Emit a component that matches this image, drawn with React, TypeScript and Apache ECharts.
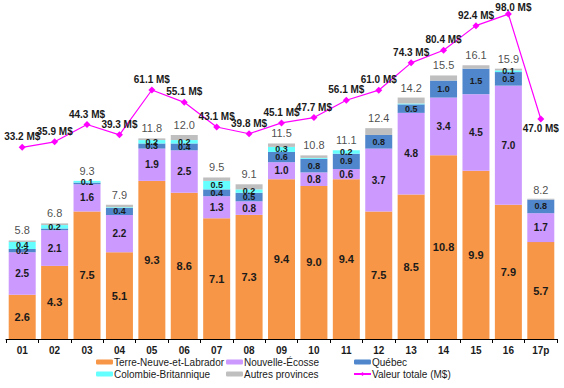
import React, { useEffect, useRef } from "react";
import * as echarts from "echarts";

const years = ["01", "02", "03", "04", "05", "06", "07", "08", "09", "10", "11", "12", "13", "14", "15", "16", "17p"];
const terreNeuve = [2.6, 4.3, 7.5, 5.1, 9.3, 8.6, 7.1, 7.3, 9.4, 9.0, 9.4, 7.5, 8.5, 10.8, 9.9, 7.9, 5.7];
const nouvelleEcosse = [2.5, 2.1, 1.6, 2.2, 1.9, 2.5, 1.3, 0.8, 1.0, 0.8, 0.6, 3.7, 4.8, 3.4, 4.5, 7.0, 1.7];
const quebec = [0.2, 0.1, 0.1, 0.4, 0.3, 0.4, 0.4, 0.5, 0.6, 0.8, 0.9, 0.8, 0.5, 1.0, 1.5, 0.8, 0.8];
const colombieBritannique = [0.4, 0.2, 0.1, 0.05, 0.2, 0.2, 0.5, 0.2, 0.3, 0.05, 0.2, 0, 0.05, 0, 0, 0.1, 0];
const autres = [0.1, 0.1, 0, 0.15, 0.1, 0.3, 0.2, 0.3, 0.2, 0.15, 0, 0.4, 0.35, 0.3, 0.2, 0.1, 0.05];
const totals = [5.8, 6.8, 9.3, 7.9, 11.8, 12.0, 9.5, 9.1, 11.5, 10.8, 11.1, 12.4, 14.2, 15.5, 16.1, 15.9, 8.2];
const valeurTotale = [33.2, 35.9, 44.3, 39.3, 61.1, 55.1, 43.1, 39.8, 45.1, 47.7, 56.1, 61.0, 74.3, 80.4, 92.4, 98.0, 47.0];

const FONT = "'Liberation Sans', Arial, sans-serif";
const TXT = "#1a1a1a";

export default function App() {
  const ref = useRef<HTMLDivElement>(null);
  useEffect(() => {
    if (!ref.current) return;
    const chart = echarts.init(ref.current, null, { renderer: "svg" });
    const segLabel = (min: number, size: number) => ({
      show: true,
      position: "inside" as const,
      fontFamily: FONT,
      fontSize: size,
      fontWeight: "bold" as const,
      color: TXT,
      formatter: (p: any) => (p.value >= min ? Number(p.value).toFixed(1) : ""),
    });
    const barBase = {
      type: "bar" as const,
      stack: "prov",
      barWidth: 27,
      yAxisIndex: 0,
    };
    const last = valeurTotale.length - 1;
    const peak = valeurTotale.indexOf(Math.max(...valeurTotale));
    const legendBase = {
      orient: "vertical" as const,
      top: 352,
      itemWidth: 17,
      itemHeight: 5,
      itemGap: 2,
      textStyle: { fontSize: 10, color: TXT, fontFamily: FONT, padding: [0, 0, 0, -4] },
    };
    chart.setOption({
      animation: false,
      textStyle: { fontFamily: FONT },
      grid: { left: 6, right: 7, top: 10, bottom: 49, containLabel: false },
      legend: [
        { ...legendBase, data: ["Terre-Neuve-et-Labrador", "Colombie-Britannique"], left: 91 },
        { ...legendBase, data: ["Nouvelle-Écosse", "Autres provinces"], left: 221 },
        { ...legendBase, data: ["Québec", "Valeur totale (M$)"], left: 348 },
      ],
      xAxis: {
        type: "category",
        data: years,
        axisLine: { lineStyle: { color: "#000", width: 1 } },
        axisTick: { show: true, length: 4, lineStyle: { color: "#000" } },
        axisLabel: { fontSize: 10, fontWeight: "bold", color: TXT, margin: 6, fontFamily: FONT },
      },
      yAxis: [
        { type: "value", min: 0, max: 19.35, show: false, splitLine: { show: false } },
        { type: "value", min: -60, max: 100, show: false, splitLine: { show: false } },
      ],
      series: [
        {
          ...barBase,
          name: "Terre-Neuve-et-Labrador",
          data: terreNeuve,
          itemStyle: { color: "#F79646" },
          label: segLabel(0, 11),
        },
        {
          ...barBase,
          name: "Nouvelle-Écosse",
          data: nouvelleEcosse,
          itemStyle: { color: "#CC99FF" },
          label: segLabel(0, 10),
        },
        {
          ...barBase,
          name: "Québec",
          data: quebec,
          itemStyle: { color: "#4F86CC" },
          label: segLabel(0.2, 9),
        },
        {
          ...barBase,
          name: "Colombie-Britannique",
          data: colombieBritannique,
          itemStyle: { color: "#66FFFF" },
          label: segLabel(0.1, 9),
        },
        {
          ...barBase,
          name: "Autres provinces",
          data: autres,
          itemStyle: { color: "#BFBFBF" },
        },
        {
          type: "scatter",
          name: "totaux",
          yAxisIndex: 0,
          data: totals,
          symbolSize: 1,
          itemStyle: { color: "rgba(0,0,0,0)" },
          label: {
            show: true,
            position: "top",
            distance: 4,
            fontSize: 11,
            color: TXT,
            fontFamily: FONT,
            formatter: (p: any) => Number(p.value).toFixed(1),
          },
          z: 5,
        },
        {
          type: "line",
          name: "Valeur totale (M$)",
          yAxisIndex: 1,
          data: valeurTotale.map((v, i) =>
            i === last
              ? { value: v, label: { position: "bottom", distance: 1 } }
              : i === peak
              ? { value: v, label: { offset: [5, 4] } }
              : v
          ),
          symbol: "diamond",
          symbolSize: 7,
          lineStyle: { color: "#FF00FF", width: 1.2 },
          itemStyle: { color: "#FF00FF" },
          label: {
            show: true,
            position: "top",
            distance: 2,
            fontSize: 10,
            fontWeight: "bold",
            color: TXT,
            fontFamily: FONT,
            formatter: (p: any) => Number(p.value).toFixed(1) + " M$",
          },
          z: 10,
        },
      ],
    });
    return () => chart.dispose();
  }, []);
  return <div ref={ref} style={{ width: 564, height: 388, position: "absolute", left: 0, top: 0 }} />;
}
